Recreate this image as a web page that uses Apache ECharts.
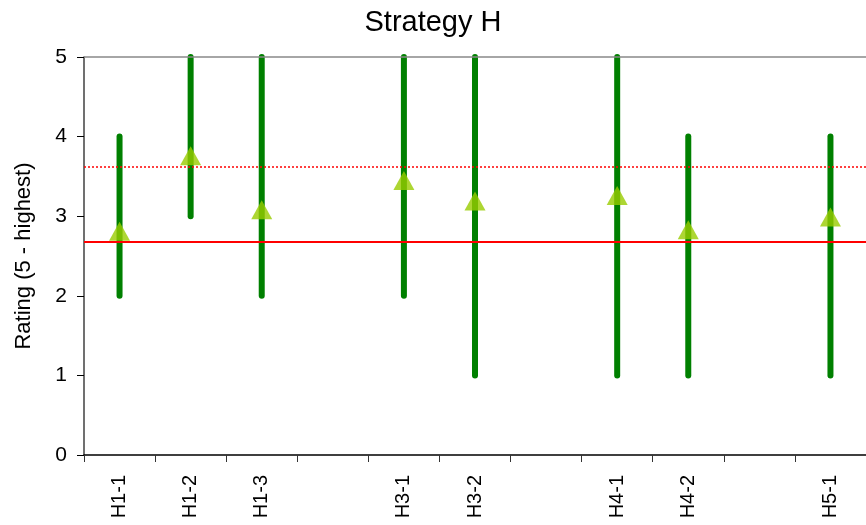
<!DOCTYPE html>
<html>
<head>
<meta charset="utf-8">
<script src="https://cdn.jsdelivr.net/npm/echarts@6/dist/echarts.min.js"></script>
<style>
  html, body { margin: 0; padding: 0; background: #fff; }
  #chart { width: 866px; height: 525px; }
</style>
</head>
<body>
<div id="chart"></div>
<script>
// categories (blank slots keep the gaps between groups)
var categories = ['H1-1', 'H1-2', 'H1-3', '', 'H3-1', 'H3-2', '', 'H4-1', 'H4-2', '', 'H5-1'];
// min / max rating per item
var lowValues  = [2, 3, 2, null, 2, 1, null, 1, 1, null, 1];
var highValues = [4, 5, 5, null, 5, 5, null, 5, 4, null, 4];
// mean rating (triangles)
var meanValues = [2.81, 3.76, 3.08, null, 3.45, 3.19, null, 3.26, 2.83, null, 2.99];
// reference lines
var solidRef = 2.68;
var dottedRef = 3.62;
var yTicks = [0, 1, 2, 3, 4, 5];

var font = 'Liberation Sans, Arial, sans-serif';

var rangeData = [];
for (var i = 0; i < categories.length; i++) {
  if (lowValues[i] !== null) rangeData.push([i, lowValues[i], highValues[i]]);
}

var myChart = echarts.init(document.getElementById('chart'));

var option = {
  animation: false,
  title: {
    text: 'Strategy H',
    left: 'center',
    top: 3,
    textStyle: { fontFamily: font, fontSize: 29, fontWeight: 'normal', color: '#000' }
  },
  grid: { left: 84, right: -2, top: 57, bottom: 70 },
  xAxis: {
    type: 'category',
    data: categories,
    axisLine: { lineStyle: { color: '#000', width: 1.5 } },
    axisTick: { show: true, length: 7, lineStyle: { color: '#333' } },
    axisLabel: {
      rotate: 90,
      margin: 20,
      fontFamily: font,
      fontSize: 20,
      color: '#000'
    }
  },
  yAxis: {
    type: 'value',
    min: yTicks[0],
    max: yTicks[yTicks.length - 1],
    interval: 1,
    name: 'Rating (5 - highest)',
    nameLocation: 'middle',
    nameGap: 49,
    nameTextStyle: { fontFamily: font, fontSize: 22, color: '#000' },
    axisLine: { show: true, lineStyle: { color: '#404040', width: 1.5 } },
    axisTick: { show: true, length: 7, lineStyle: { color: '#000' } },
    axisLabel: { fontFamily: font, fontSize: 21, color: '#000', margin: 17 },
    splitLine: { show: false }
  },
  series: [
    {
      type: 'custom',
      data: rangeData,
      renderItem: function (params, api) {
        var p1 = api.coord([api.value(0), api.value(1)]);
        var p2 = api.coord([api.value(0), api.value(2)]);
        return {
          type: 'line',
          shape: { x1: p1[0], y1: p1[1], x2: p2[0], y2: p2[1] },
          style: { stroke: '#008000', lineWidth: 6, lineCap: 'round' }
        };
      },
      z: 2
    },
    {
      type: 'scatter',
      data: meanValues,
      symbol: 'triangle',
      symbolSize: [21, 19],
      itemStyle: { color: '#99CC00' },
      z: 4,
      markLine: {
        silent: true,
        symbol: 'none',
        label: { show: false },
        data: [
          { yAxis: 5, lineStyle: { color: '#888', width: 1.5, type: 'solid' } },
          { yAxis: solidRef, lineStyle: { color: '#FF0000', width: 2, type: 'solid' } },
          { yAxis: dottedRef, lineStyle: { color: '#FF0000', width: 1.5, type: [2, 2] } }
        ]
      }
    }
  ]
};

myChart.setOption(option);
</script>
</body>
</html>
